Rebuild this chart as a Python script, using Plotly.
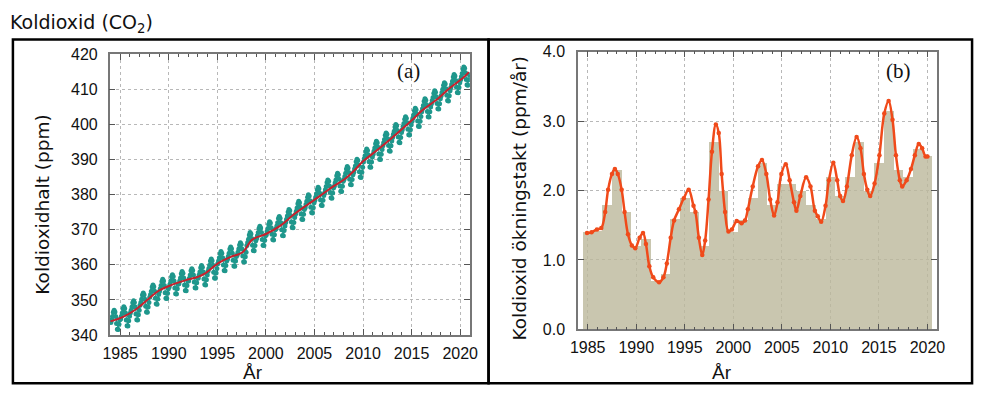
import plotly.graph_objects as go

W, H = 985, 398

# ---------------- (a) CO2 concentration ----------------
teal_years = list(range(1984, 2021))
# monthly values (ppm) per year, Jan..Dec
teal_monthly = [
    [343.6, 344.4, 345.3, 346.5, 347.1, 346.6, 345.3, 343.3, 341.7, 341.6, 343.1, 344.4],
    [344.6, 345.4, 346.3, 347.5, 348.1, 347.6, 346.3, 344.3, 342.7, 342.6, 344.1, 345.4],
    [346.3, 347.1, 348.0, 349.2, 349.8, 349.3, 348.0, 346.0, 344.4, 344.3, 345.8, 347.1],
    [348.5, 349.3, 350.2, 351.4, 352.0, 351.5, 350.2, 348.2, 346.6, 346.5, 348.0, 349.3],
    [350.8, 351.6, 352.5, 353.7, 354.3, 353.8, 352.5, 350.5, 348.9, 348.8, 350.3, 351.6],
    [352.4, 353.2, 354.1, 355.3, 355.9, 355.4, 354.1, 352.1, 350.5, 350.4, 351.9, 353.2],
    [353.7, 354.5, 355.4, 356.6, 357.2, 356.7, 355.4, 353.4, 351.8, 351.7, 353.2, 354.5],
    [354.6, 355.4, 356.3, 357.5, 358.1, 357.6, 356.3, 354.3, 352.7, 352.6, 354.1, 355.4],
    [355.4, 356.2, 357.1, 358.3, 358.9, 358.4, 357.1, 355.1, 353.5, 353.4, 354.9, 356.2],
    [356.3, 357.1, 358.0, 359.2, 359.8, 359.3, 358.0, 356.0, 354.4, 354.3, 355.8, 357.1],
    [358.2, 359.0, 359.9, 361.1, 361.7, 361.2, 359.9, 357.9, 356.3, 356.2, 357.7, 359.0],
    [360.3, 361.1, 362.0, 363.2, 363.8, 363.3, 362.0, 360.0, 358.4, 358.3, 359.8, 361.1],
    [361.6, 362.4, 363.3, 364.5, 365.1, 364.6, 363.3, 361.3, 359.7, 359.6, 361.1, 362.4],
    [362.8, 363.6, 364.5, 365.7, 366.3, 365.8, 364.5, 362.5, 360.9, 360.8, 362.3, 363.6],
    [365.5, 366.4, 367.3, 368.5, 369.2, 368.8, 367.5, 365.6, 364.1, 364.0, 365.5, 366.9],
    [367.5, 368.3, 369.2, 370.4, 371.0, 370.5, 369.2, 367.2, 365.6, 365.5, 367.0, 368.3],
    [368.6, 369.5, 370.4, 371.6, 372.3, 371.9, 370.6, 368.7, 367.2, 367.1, 368.6, 370.0],
    [370.3, 371.1, 372.0, 373.2, 373.8, 373.3, 372.0, 370.0, 368.4, 368.3, 369.8, 371.1],
    [372.1, 373.0, 373.9, 375.1, 375.8, 375.4, 374.1, 372.2, 370.7, 370.6, 372.1, 373.5],
    [374.4, 375.3, 376.2, 377.4, 378.1, 377.7, 376.4, 374.5, 373.0, 372.9, 374.4, 375.8],
    [376.3, 377.2, 378.1, 379.3, 380.0, 379.6, 378.3, 376.4, 374.9, 374.8, 376.3, 377.7],
    [378.4, 379.3, 380.2, 381.4, 382.1, 381.7, 380.4, 378.5, 377.0, 376.9, 378.4, 379.8],
    [380.5, 381.4, 382.3, 383.5, 384.2, 383.8, 382.5, 380.6, 379.1, 379.0, 380.5, 381.9],
    [382.4, 383.3, 384.2, 385.4, 386.1, 385.7, 384.4, 382.5, 381.0, 380.9, 382.4, 383.8],
    [384.3, 385.2, 386.1, 387.3, 388.0, 387.6, 386.3, 384.4, 382.9, 382.8, 384.3, 385.7],
    [386.4, 387.3, 388.2, 389.4, 390.1, 389.7, 388.4, 386.5, 385.0, 384.9, 386.4, 387.8],
    [389.3, 390.2, 391.1, 392.3, 393.0, 392.6, 391.3, 389.4, 387.9, 387.8, 389.3, 390.7],
    [391.5, 392.4, 393.3, 394.5, 395.2, 394.8, 393.5, 391.6, 390.1, 390.0, 391.5, 392.9],
    [393.9, 394.8, 395.7, 396.9, 397.6, 397.2, 395.9, 394.0, 392.5, 392.4, 393.9, 395.3],
    [396.3, 397.2, 398.1, 399.3, 400.0, 399.6, 398.3, 396.4, 394.9, 394.8, 396.3, 397.7],
    [398.5, 399.4, 400.3, 401.5, 402.2, 401.8, 400.5, 398.6, 397.1, 397.0, 398.5, 399.9],
    [400.9, 401.8, 402.7, 403.9, 404.6, 404.2, 402.9, 401.0, 399.5, 399.4, 400.9, 402.3],
    [403.6, 404.5, 405.4, 406.6, 407.3, 406.9, 405.6, 403.7, 402.2, 402.1, 403.6, 405.0],
    [405.9, 406.8, 407.7, 408.9, 409.6, 409.2, 407.9, 406.0, 404.5, 404.4, 405.9, 407.3],
    [408.2, 409.1, 410.0, 411.2, 411.9, 411.5, 410.2, 408.3, 406.8, 406.7, 408.2, 409.6],
    [410.5, 411.4, 412.3, 413.5, 414.2, 413.8, 412.5, 410.6, 409.1, 409.0, 410.5, 411.9],
    [412.7, 413.6, 414.5, 415.7, 416.4, 416.0, 414.7, 412.8, 411.3, 411.2, 412.7, 414.1],
]

# deseasonalised trend (red line)
trend_year = [1984.0, 1985.3, 1986.6, 1988.0, 1989.0, 1990.3, 1991.7, 1993.0, 1993.7,
              1995.1, 1996.4, 1997.6, 1998.6, 2000.0, 2001.5, 2002.8, 2004.2, 2005.5,
              2006.9, 2008.2, 2009.0, 2010.0, 2011.5, 2012.9, 2015.0, 2016.0, 2017.6,
              2018.9, 2020.4, 2020.9]
trend_ppm = [343.9, 345.2, 347.3, 350.5, 352.7, 354.3, 355.6, 356.6, 357.5,
             360.5, 362.3, 363.6, 367.2, 368.8, 371.2, 374.2, 377.0, 379.5,
             382.3, 384.6, 386.6, 389.5, 392.8, 396.0, 401.1, 403.8, 407.1,
             410.3, 413.5, 414.9]

# ---------------- (b) growth rate ----------------
bar_years = list(range(1985, 2021))
bar_rates = [1.40, 1.42, 1.80, 2.30, 1.70, 1.20, 1.30, 0.70, 0.80, 1.60,
             1.90, 1.70, 1.20, 2.70, 2.00, 1.40, 1.58, 1.90, 2.40, 1.80,
             2.10, 2.10, 2.00, 1.80, 1.60, 2.20, 1.92, 2.20, 2.70, 2.00,
             2.40, 3.15, 2.30, 2.20, 2.60, 2.50]

curve_year = [1984.93, 1985.4, 1985.95, 1986.4, 1986.8, 1987.1, 1987.5, 1987.8, 1988.1,
              1988.5, 1988.8, 1989.15, 1989.55, 1989.9, 1990.35, 1990.7, 1991.0, 1991.35,
              1991.75, 1992.35, 1992.8, 1993.15, 1993.55, 1993.9, 1994.4, 1994.9, 1995.4,
              1995.9, 1996.1, 1996.45, 1996.8, 1997.1, 1997.45, 1997.8, 1998.2, 1998.5,
              1998.8, 1999.15, 1999.5, 1999.85, 2000.35, 2000.85, 2001.2, 2001.5, 2002.0,
              2002.55, 2002.95, 2003.4, 2003.8, 2004.2, 2004.55, 2004.95, 2005.4, 2005.8,
              2006.25, 2006.5, 2006.9, 2007.5, 2007.95, 2008.4, 2008.7, 2009.05, 2009.5,
              2009.85, 2010.3, 2010.7, 2011.0, 2011.3, 2011.7, 2012.2, 2012.7, 2013.1,
              2013.45, 2013.8, 2014.1, 2014.55, 2015.05, 2015.55, 2016.0, 2016.4, 2016.75,
              2017.15, 2017.4, 2017.85, 2018.3, 2018.7, 2019.1, 2019.45, 2019.8, 2020.0]
curve_rate = [1.39, 1.40, 1.44, 1.46, 1.69, 2.01, 2.24, 2.31, 2.24,
              2.01, 1.69, 1.37, 1.21, 1.17, 1.32, 1.39, 1.23, 0.91,
              0.75, 0.68, 0.75, 0.95, 1.32, 1.57, 1.73, 1.89, 2.01,
              1.78, 1.69, 1.32, 1.07, 1.28, 1.87, 2.56, 2.95, 2.83,
              2.24, 1.69, 1.41, 1.44, 1.56, 1.53, 1.57, 1.73, 2.06,
              2.35, 2.44, 2.24, 1.87, 1.64, 1.83, 2.24, 2.38, 2.15,
              1.83, 1.71, 1.92, 2.19, 2.06, 1.71, 1.63, 1.55, 1.78,
              2.15, 2.40, 2.15, 1.92, 1.85, 2.06, 2.51, 2.77, 2.61,
              2.24, 2.01, 1.92, 2.10, 2.51, 3.11, 3.29, 3.02, 2.51,
              2.15, 2.06, 2.15, 2.31, 2.51, 2.67, 2.61, 2.49, 2.49]

# build monthly x/y from the table
teal_x, teal_y = [], []
for yr, row in zip(teal_years, teal_monthly):
    for m, v in enumerate(row):
        teal_x.append(yr + (m + 0.5) / 12)
        teal_y.append(v)

TEAL = "#1f978c"
ORANGE = "#f04a1a"
fig = go.Figure()
fig.add_trace(go.Scatter(x=teal_x, y=teal_y, mode="lines+markers", xaxis="x", yaxis="y",
                         line=dict(color=TEAL, width=1),
                         marker=dict(color=TEAL, size=5, symbol="circle"),
                         showlegend=False))
fig.add_trace(go.Scatter(x=trend_year, y=trend_ppm, mode="lines", xaxis="x", yaxis="y",
                         line=dict(color="#c8202c", width=2, shape="spline"),
                         showlegend=False))
fig.add_trace(go.Bar(x=bar_years, y=bar_rates, width=1.0, xaxis="x2", yaxis="y2",
                     marker=dict(color="rgba(188,184,155,0.8)", line=dict(width=0)),
                     showlegend=False))
fig.add_trace(go.Scatter(x=curve_year, y=curve_rate, mode="lines+markers", xaxis="x2", yaxis="y2",
                         line=dict(color=ORANGE, width=2.5, shape="spline"),
                         marker=dict(color=ORANGE, size=4.5),
                         showlegend=False))

tickfont = dict(family="Liberation Sans, Arial", size=16, color="#111")
common = dict(showline=True, linecolor="#777", linewidth=1.5, mirror="ticks",
              ticks="inside", ticklen=6, tickcolor="#555", tickwidth=1,
              showgrid=True, gridcolor="#b8b8b8", griddash="dot", gridwidth=1,
              zeroline=False, tickfont=tickfont)


def px_x(p):
    return p / W


def px_y(p):
    return 1 - p / H


fig.update_layout(
    width=W, height=H, margin=dict(l=0, r=0, t=0, b=0),
    paper_bgcolor="white", plot_bgcolor="white", bargap=0,
    xaxis=dict(domain=[px_x(103.5), px_x(470)], range=[1983.92, 2021.0],
               tick0=1985, dtick=5, anchor="y", ticklabelstandoff=3,
               minor=dict(dtick=1, ticks="inside", ticklen=3, tickcolor="#555", showgrid=False),
               **common),
    yaxis=dict(domain=[px_y(341.7), px_y(48.3)], range=[340, 420], dtick=10, anchor="x",
               ticklabelstandoff=7, **common),
    xaxis2=dict(domain=[px_x(580), px_x(945)], range=[1984.0, 2020.95],
                tick0=1985, dtick=5, anchor="y2", ticklabelstandoff=3,
                minor=dict(dtick=1, ticks="inside", ticklen=3, tickcolor="#555", showgrid=False),
                **common),
    yaxis2=dict(domain=[px_y(335.7), px_y(45.7)], range=[0, 4], dtick=1, tickformat=".1f",
                anchor="x2", ticklabelstandoff=8, **common),
)

lab = dict(family="DejaVu Sans", size=18.5, color="#111")
ann = [
    dict(text="Koldioxid (CO<sub>2</sub>)", x=px_x(0), y=px_y(1), xanchor="left", yanchor="top",
         font=dict(family="DejaVu Sans", size=19, color="#111")),
    dict(text="Koldioxidhalt (ppm)", x=px_x(35), y=px_y(205), textangle=-90, font=lab),
    dict(text="Koldioxid ökningstakt (ppm/år)", x=px_x(520), y=px_y(199), textangle=-90, font=lab),
    dict(text="År", x=px_x(249), y=px_y(381), font=dict(family="Liberation Sans, Arial", size=19, color="#111")),
    dict(text="År", x=px_x(727), y=px_y(381), font=dict(family="Liberation Sans, Arial", size=19, color="#111")),
    dict(text="(a)", x=px_x(408), y=px_y(66), font=dict(family="Liberation Serif", size=21, color="#111")),
    dict(text="(b)", x=px_x(906), y=px_y(66), font=dict(family="Liberation Serif", size=21, color="#111")),
]
for a in ann:
    a.update(xref="paper", yref="paper", showarrow=False)
    a.setdefault("xanchor", "center")
    a.setdefault("yanchor", "middle")
fig.update_layout(annotations=ann)

fig.update_layout(shapes=[
    dict(type="rect", xref="paper", yref="paper", x0=px_x(5), x1=px_x(489), y0=px_y(392), y1=px_y(33),
         line=dict(color="black", width=2.5)),
    dict(type="rect", xref="paper", yref="paper", x0=px_x(489), x1=px_x(981), y0=px_y(392), y1=px_y(33),
         line=dict(color="black", width=2.5)),
])

fig.write_html("out.html", config={"displayModeBar": False},
               post_script="document.body.style.margin='0px';document.body.style.overflow='hidden';")
